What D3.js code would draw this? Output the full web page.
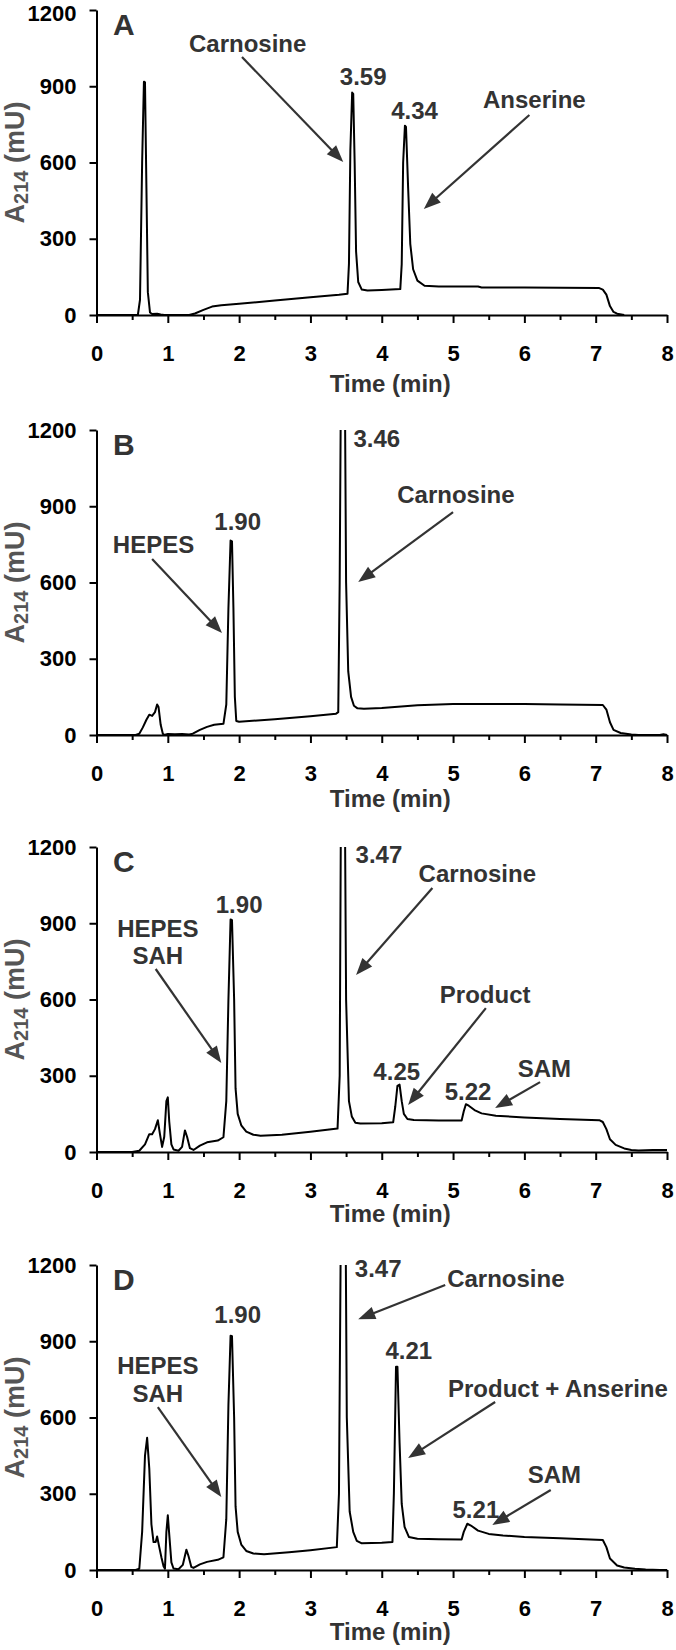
<!DOCTYPE html>
<html><head><meta charset="utf-8">
<script src="https://cdn.jsdelivr.net/npm/d3@7"></script>
<style>
body{margin:0;background:#fff}
svg{display:block}
text{font-family:"Liberation Sans",Arial,Helvetica,sans-serif;font-weight:bold}
</style>
</head><body>
<svg id="chart" width="676" height="1650"></svg>
<script>
// ---------- data ----------
const xTickValues = [0,1,2,3,4,5,6,7,8];
const xMinorTickValues = [0.5,1.5,2.5,3.5,4.5,5.5,6.5,7.5];
const yTickValues = [0,300,600,900,1200];
const panelLetters = ["A","B","C","D"];
const xAxisTitle = "Time (min)";

// chromatogram traces: [time (min), A214 (mU)]
const traceA = [[0,0],[0.58,0],[0.61,60],[0.64,600],[0.665,918],[0.68,915],[0.70,500],[0.72,90],[0.75,10],[0.78,4],[0.85,5],[0.9,2],[0.95,0],[1.3,0],[1.38,6],[1.5,20],[1.62,33],[1.75,38],[2.0,44],[2.5,57],[3.0,70],[3.4,80],[3.52,84],[3.54,200],[3.56,650],[3.585,875],[3.6,870],[3.62,600],[3.64,250],[3.67,130],[3.72,100],[3.8,96],[4.0,98],[4.26,102],[4.28,200],[4.30,600],[4.325,745],[4.34,740],[4.37,500],[4.40,280],[4.44,180],[4.5,135],[4.6,115],[4.8,112],[5.35,112],[5.4,108],[6.0,108],[7.05,106],[7.1,100],[7.15,80],[7.2,35],[7.25,12],[7.3,5],[7.4,0]];
const traceB = [[0,0],[0.55,0],[0.6,5],[0.65,30],[0.7,60],[0.74,80],[0.78,75],[0.82,90],[0.85,120],[0.87,110],[0.9,40],[0.93,5],[0.95,0],[1.0,4],[1.1,3],[1.2,4],[1.3,2],[1.35,5],[1.45,20],[1.55,32],[1.65,40],[1.78,44],[1.82,120],[1.85,500],[1.88,765],[1.9,762],[1.92,500],[1.94,150],[1.96,55],[2.0,52],[2.5,62],[3.0,74],[3.36,84],[3.39,90],[3.41,600],[3.43,1500],[3.48,1500],[3.5,600],[3.53,250],[3.57,150],[3.61,115],[3.66,105],[3.75,103],[4.0,106],[4.5,117],[5.0,122],[6.0,122],[6.5,120],[7.1,118],[7.15,100],[7.2,50],[7.25,20],[7.35,8],[7.5,2],[7.6,0],[7.9,0],[7.95,3],[8,0]];
const traceC = [[0,0],[0.5,0],[0.6,5],[0.68,30],[0.74,70],[0.78,70],[0.82,90],[0.86,125],[0.89,70],[0.92,20],[0.95,60],[0.98,200],[1.0,215],[1.02,120],[1.05,30],[1.08,10],[1.15,5],[1.2,20],[1.24,85],[1.27,60],[1.31,15],[1.36,8],[1.45,25],[1.55,38],[1.7,45],[1.78,58],[1.82,200],[1.85,600],[1.88,915],[1.9,912],[1.93,600],[1.95,250],[1.98,150],[2.03,105],[2.1,80],[2.2,68],[2.3,64],[2.6,68],[3.0,80],[3.38,92],[3.41,300],[3.43,1500],[3.48,1500],[3.5,600],[3.54,200],[3.58,140],[3.63,115],[3.7,112],[4.0,113],[4.16,117],[4.19,180],[4.22,260],[4.25,265],[4.28,200],[4.31,150],[4.36,130],[4.45,126],[4.8,124],[5.12,124],[5.15,160],[5.18,188],[5.22,182],[5.3,165],[5.4,152],[5.6,143],[6.0,136],[6.5,130],[7.05,125],[7.1,118],[7.15,90],[7.2,50],[7.28,28],[7.4,14],[7.5,8],[7.6,6],[7.8,8],[7.9,8],[8,8]];
const traceD = [[0,0],[0.55,0],[0.6,5],[0.64,150],[0.68,450],[0.71,520],[0.74,400],[0.77,180],[0.8,110],[0.83,110],[0.85,132],[0.88,90],[0.91,50],[0.94,15],[0.96,5],[0.98,150],[1.0,215],[1.02,140],[1.05,30],[1.08,6],[1.15,3],[1.21,20],[1.26,80],[1.29,55],[1.33,12],[1.36,8],[1.45,22],[1.55,32],[1.7,40],[1.78,50],[1.82,200],[1.85,650],[1.88,922],[1.9,920],[1.93,600],[1.95,250],[1.98,150],[2.03,100],[2.1,75],[2.2,65],[2.35,62],[2.7,70],[3.0,78],[3.37,90],[3.4,300],[3.43,1500],[3.49,1500],[3.51,600],[3.55,230],[3.6,150],[3.65,115],[3.72,105],[4.0,107],[4.15,110],[4.17,300],[4.2,800],[4.22,800],[4.25,500],[4.28,260],[4.32,170],[4.38,130],[4.5,123],[4.8,121],[5.12,120],[5.15,150],[5.2,182],[5.25,175],[5.35,155],[5.5,142],[5.7,136],[6.0,130],[6.5,125],[7.1,118],[7.15,90],[7.2,45],[7.3,18],[7.4,10],[7.55,5],[7.7,2],[7.9,0],[8,0]];
const traces = [traceA, traceB, traceC, traceD];

// text annotations (anchor point in data units: time, mU)
const labelsA = [{text:"Carnosine",t:2.12,v:1035},{text:"3.59",t:3.74,v:905},{text:"4.34",t:4.46,v:771},{text:"Anserine",t:6.14,v:814}];
const labelsB = [{text:"3.46",t:3.93,v:1133},{text:"Carnosine",t:5.04,v:913},{text:"1.90",t:1.98,v:806},{text:"HEPES",t:0.80,v:716}];
const labelsC = [{text:"3.47",t:3.96,v:1137},{text:"Carnosine",t:5.34,v:1062},{text:"1.90",t:2.0,v:940},{text:"HEPES",t:0.86,v:846},{text:"SAH",t:0.86,v:740},{text:"Product",t:5.45,v:586},{text:"4.25",t:4.21,v:283},{text:"5.22",t:5.21,v:205},{text:"SAM",t:6.28,v:295}];
const labelsD = [{text:"3.47",t:3.95,v:1153},{text:"Carnosine",t:5.74,v:1113},{text:"1.90",t:1.98,v:972},{text:"4.21",t:4.38,v:830},{text:"HEPES",t:0.86,v:771},{text:"SAH",t:0.86,v:661},{text:"Product + Anserine",t:6.47,v:681},{text:"SAM",t:6.42,v:342},{text:"5.21",t:5.32,v:205}];
const labels = [labelsA, labelsB, labelsC, labelsD];

// arrows: from (t0,v0) to tip (t1,v1)
const arrowsA = [[2.04,1015,3.46,602],[6.07,787,4.59,417]];
const arrowsB = [[5.0,877,3.67,602],[0.78,692,1.76,401]];
const arrowsC = [[4.71,1039,3.64,696],[0.83,720,1.75,350],[5.46,566,4.37,185],[6.22,275,5.59,173]];
const arrowsD = [[4.89,1121,3.67,987],[0.86,641,1.75,287],[5.59,661,4.37,441],[6.37,315,5.55,177]];
const arrows = [arrowsA, arrowsB, arrowsC, arrowsD];

// ---------- layout ----------
const panelTops = [10, 430, 847, 1265];
const timeTitleOffsets = [77, 72, 70, 70];
const plotH = 305;
const xLeft = 96.5, xRight = 667;
const textColor = "#333";

const svg = d3.select("#chart");
const x = d3.scaleLinear().domain([0,8]).range([xLeft, xRight]);

panelTops.forEach((top, i) => {
  const y = d3.scaleLinear().domain([0,1200]).range([top + plotH, top]);
  const g = svg.append("g");

  const cid = "clip" + i;
  svg.append("clipPath").attr("id", cid).append("rect")
    .attr("x", xLeft).attr("y", top).attr("width", xRight - xLeft + 5).attr("height", plotH + 5);

  const line = d3.line().x(d => x(d[0])).y(d => y(d[1]));
  g.append("path").datum(traces[i]).attr("d", line)
    .attr("fill","none").attr("stroke","#000").attr("stroke-width",2)
    .attr("stroke-linejoin","round").attr("clip-path","url(#"+cid+")");

  const xa = g.append("g").attr("transform","translate(0,"+(top+plotH)+")")
    .call(d3.axisBottom(x).tickValues(xTickValues).tickSize(8).tickSizeOuter(0).tickFormat(d3.format("d")));
  xa.select(".domain").attr("stroke","#000").attr("stroke-width",2);
  xa.selectAll(".tick line").attr("stroke","#000").attr("stroke-width",2);
  xa.selectAll(".tick text").attr("y",46).attr("dy",0).attr("fill","#000")
    .style("font-size","22px");
  const xm = g.append("g").attr("transform","translate(0,"+(top+plotH)+")")
    .call(d3.axisBottom(x).tickValues(xMinorTickValues).tickSize(5).tickSizeOuter(0).tickFormat(""));
  xm.select(".domain").remove();
  xm.selectAll(".tick line").attr("stroke","#000").attr("stroke-width",2);

  const ya = g.append("g").attr("transform","translate("+xLeft+",0)")
    .call(d3.axisLeft(y).tickValues(yTickValues).tickSize(7).tickPadding(13).tickSizeOuter(0).tickFormat(d3.format("d")));
  ya.select(".domain").attr("stroke","#000").attr("stroke-width",2);
  ya.selectAll(".tick line").attr("stroke","#000").attr("stroke-width",2);
  ya.selectAll(".tick text").attr("fill","#000").style("font-size","22px");
  if (i === 0) {
    // keep the topmost tick label inside the page
    ya.selectAll(".tick text").filter(d => d === 1200).attr("y", 3);
  }

  g.append("text").attr("x", x(4.12)).attr("y", top + plotH + timeTitleOffsets[i])
    .attr("text-anchor","middle").attr("fill",textColor).style("font-size","24px")
    .text(xAxisTitle);
  const yl = g.append("text")
    .attr("transform","translate(24,"+(top + plotH/2)+") rotate(-90)")
    .attr("text-anchor","middle").attr("fill","#555").style("font-size","27px");
  yl.append("tspan").text("A");
  yl.append("tspan").attr("dy",4).style("font-size","20px").text("214");
  yl.append("tspan").attr("dy",-4).text(" (mU)");

  g.append("text").attr("x",113).attr("y", y(1200) + 25)
    .attr("fill",textColor).style("font-size","30px").text(panelLetters[i]);

  g.selectAll("text.ann").data(labels[i]).join("text").attr("class","ann")
    .attr("x", d => x(d.t)).attr("y", d => y(d.v))
    .attr("text-anchor","middle").attr("fill",textColor).style("font-size","24px")
    .text(d => d.text);

  arrows[i].forEach(a => {
    const x0 = x(a[0]), y0 = y(a[1]), x1 = x(a[2]), y1 = y(a[3]);
    const ang = Math.atan2(y1 - y0, x1 - x0);
    const L = 17, Wd = 6.5;
    const bx = x1 - L*Math.cos(ang), by = y1 - L*Math.sin(ang);
    g.append("line").attr("x1",x0).attr("y1",y0).attr("x2",bx + 2*Math.cos(ang)).attr("y2",by + 2*Math.sin(ang))
      .attr("stroke",textColor).attr("stroke-width",2.2);
    const px = -Math.sin(ang), py = Math.cos(ang);
    g.append("path")
      .attr("d", "M"+x1+","+y1+"L"+(bx+Wd*px)+","+(by+Wd*py)+"L"+(bx-Wd*px)+","+(by-Wd*py)+"Z")
      .attr("fill",textColor);
  });
});
</script>
</body></html>
